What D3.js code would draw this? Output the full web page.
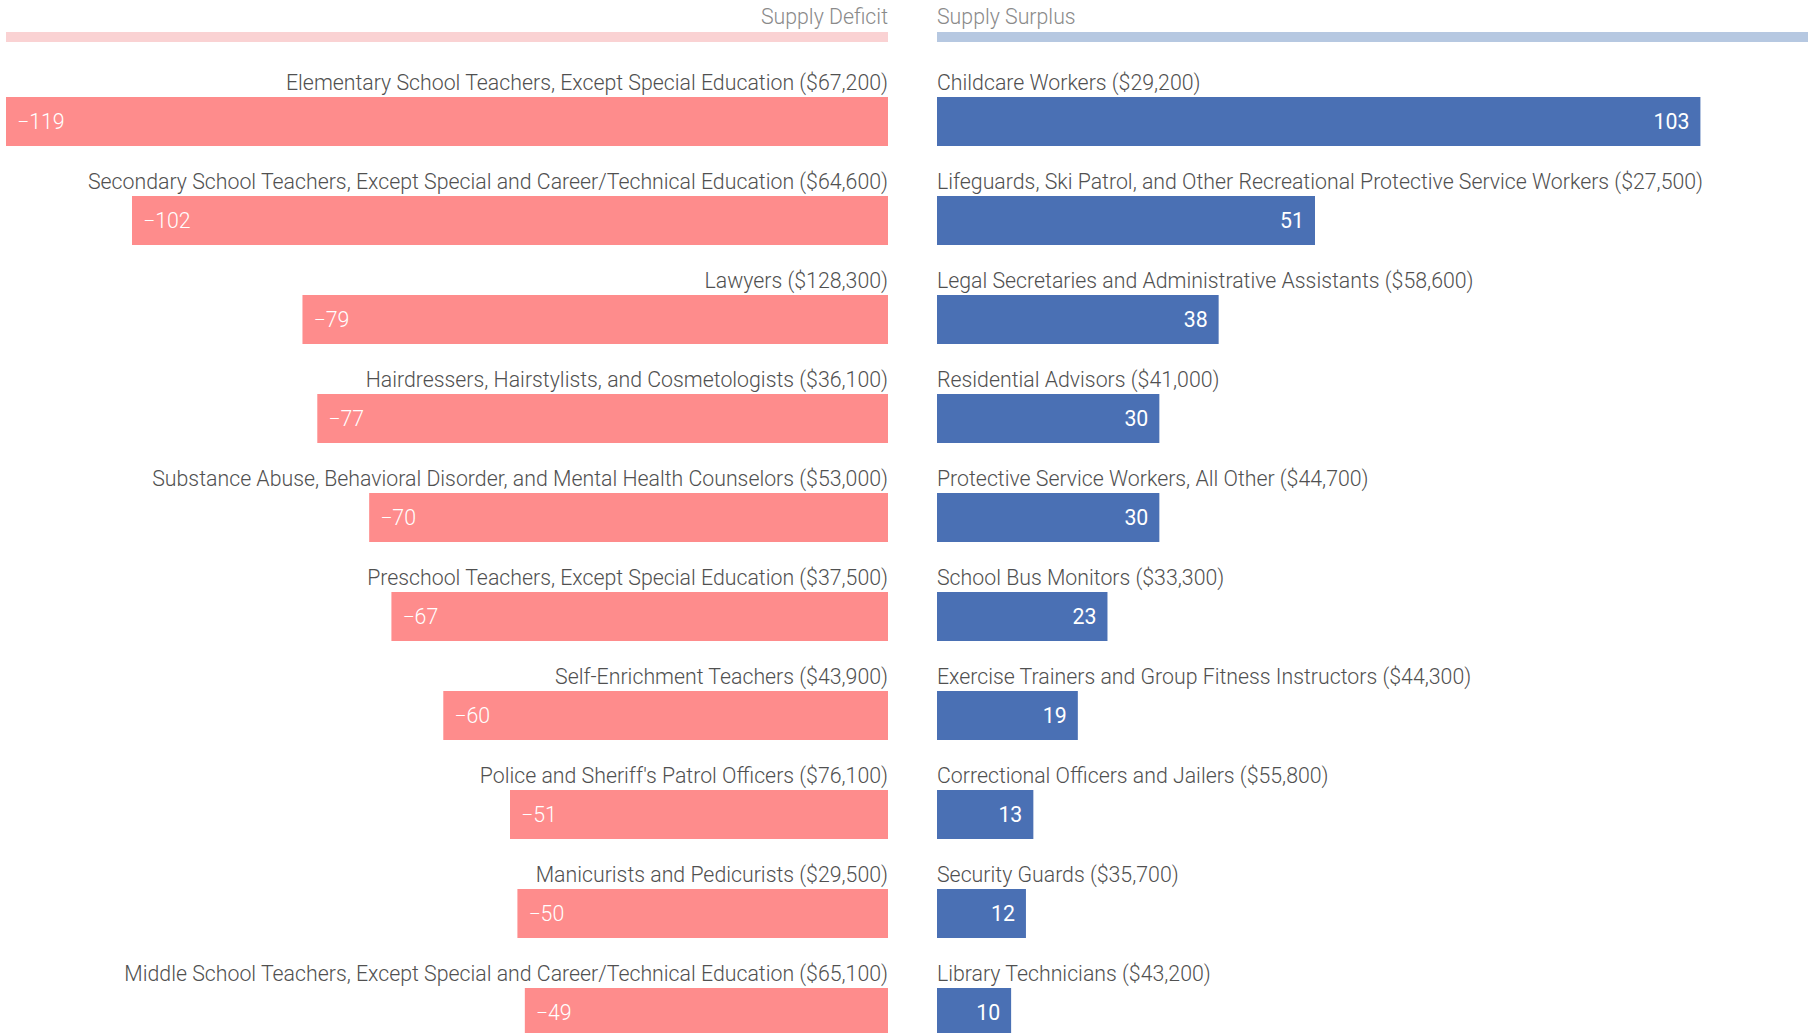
<!DOCTYPE html>
<html>
<head>
<meta charset="utf-8">
<script src="https://cdn.jsdelivr.net/npm/d3@7"></script>
<style>
  body { margin: 0; background: #fff; overflow: hidden; }
  text { font-family: Roboto, "Open Sans", sans-serif; }
</style>
</head>
<body>
<svg id="chart" width="1808" height="1033"></svg>
<script>
// data
const deficitJobs = [
  "Elementary School Teachers, Except Special Education ($67,200)",
  "Secondary School Teachers, Except Special and Career/Technical Education ($64,600)",
  "Lawyers ($128,300)",
  "Hairdressers, Hairstylists, and Cosmetologists ($36,100)",
  "Substance Abuse, Behavioral Disorder, and Mental Health Counselors ($53,000)",
  "Preschool Teachers, Except Special Education ($37,500)",
  "Self-Enrichment Teachers ($43,900)",
  "Police and Sheriff's Patrol Officers ($76,100)",
  "Manicurists and Pedicurists ($29,500)",
  "Middle School Teachers, Except Special and Career/Technical Education ($65,100)"
];
const deficitValues = [-119, -102, -79, -77, -70, -67, -60, -51, -50, -49];

const surplusJobs = [
  "Childcare Workers ($29,200)",
  "Lifeguards, Ski Patrol, and Other Recreational Protective Service Workers ($27,500)",
  "Legal Secretaries and Administrative Assistants ($58,600)",
  "Residential Advisors ($41,000)",
  "Protective Service Workers, All Other ($44,700)",
  "School Bus Monitors ($33,300)",
  "Exercise Trainers and Group Fitness Instructors ($44,300)",
  "Correctional Officers and Jailers ($55,800)",
  "Security Guards ($35,700)",
  "Library Technicians ($43,200)"
];
const surplusValues = [103, 51, 38, 30, 30, 23, 19, 13, 12, 10];

const legendLabels = ["Supply Deficit", "Supply Surplus"];

const colors = {deficit: "#fe8c8c", surplus: "#4a70b4",
                deficitLight: "#fad2d3", surplusLight: "#b6c8e1"};

const svg = d3.select("#chart");
const midLeft = 888, midRight = 937;
const fs = "21.3px";

// magnitude scale shared by both sides
const len = d3.scaleLinear().domain([0, 119]).range([0, 882]);
const row = d3.scaleBand().domain(d3.range(10)).range([72, 1062]);

// legend
svg.append("rect").attr("x", 6).attr("y", 32).attr("width", midLeft - 6).attr("height", 10)
  .attr("fill", colors.deficitLight);
svg.append("rect").attr("x", midRight).attr("y", 32).attr("width", 1808 - midRight).attr("height", 10)
  .attr("fill", colors.surplusLight);
svg.append("text").attr("x", midLeft).attr("y", 24).attr("text-anchor", "end")
  .attr("font-size", fs).attr("font-weight", 300).attr("fill", "#8a8a8a").text(legendLabels[0]);
svg.append("text").attr("x", midRight).attr("y", 24)
  .attr("font-size", fs).attr("font-weight", 300).attr("fill", "#8a8a8a").text(legendLabels[1]);

const left = deficitValues.map((v, i) => ({v: v, job: deficitJobs[i], i: i}));
const right = surplusValues.map((v, i) => ({v: v, job: surplusJobs[i], i: i}));

// deficit side
const gl = svg.append("g");
gl.selectAll("rect").data(left).enter().append("rect")
  .attr("x", d => midLeft - len(-d.v))
  .attr("y", d => row(d.i) + 25)
  .attr("width", d => len(-d.v))
  .attr("height", 49)
  .attr("fill", colors.deficit);
gl.selectAll(".lab").data(left).enter().append("text")
  .attr("class", "lab")
  .attr("x", midLeft).attr("y", d => row(d.i) + 18)
  .attr("text-anchor", "end")
  .attr("font-size", fs).attr("font-weight", 300).attr("fill", "#505050")
  .text(d => d.job);
gl.selectAll(".val").data(left).enter().append("text")
  .attr("class", "val")
  .attr("x", d => midLeft - len(-d.v) + 11).attr("y", d => row(d.i) + 57)
  .attr("font-size", fs).attr("font-weight", 300).attr("fill", "#fff")
  .text(d => "\u2212" + (-d.v));

// surplus side
const gr = svg.append("g");
gr.selectAll("rect").data(right).enter().append("rect")
  .attr("x", midRight)
  .attr("y", d => row(d.i) + 25)
  .attr("width", d => len(d.v))
  .attr("height", 49)
  .attr("fill", colors.surplus);
gr.selectAll(".lab").data(right).enter().append("text")
  .attr("class", "lab")
  .attr("x", midRight).attr("y", d => row(d.i) + 18)
  .attr("font-size", fs).attr("font-weight", 300).attr("fill", "#505050")
  .text(d => d.job);
gr.selectAll(".val").data(right).enter().append("text")
  .attr("class", "val")
  .attr("x", d => midRight + len(d.v) - 11).attr("y", d => row(d.i) + 57)
  .attr("text-anchor", "end")
  .attr("font-size", fs).attr("font-weight", 400).attr("fill", "#fff")
  .text(d => d.v);
</script>
</body>
</html>
